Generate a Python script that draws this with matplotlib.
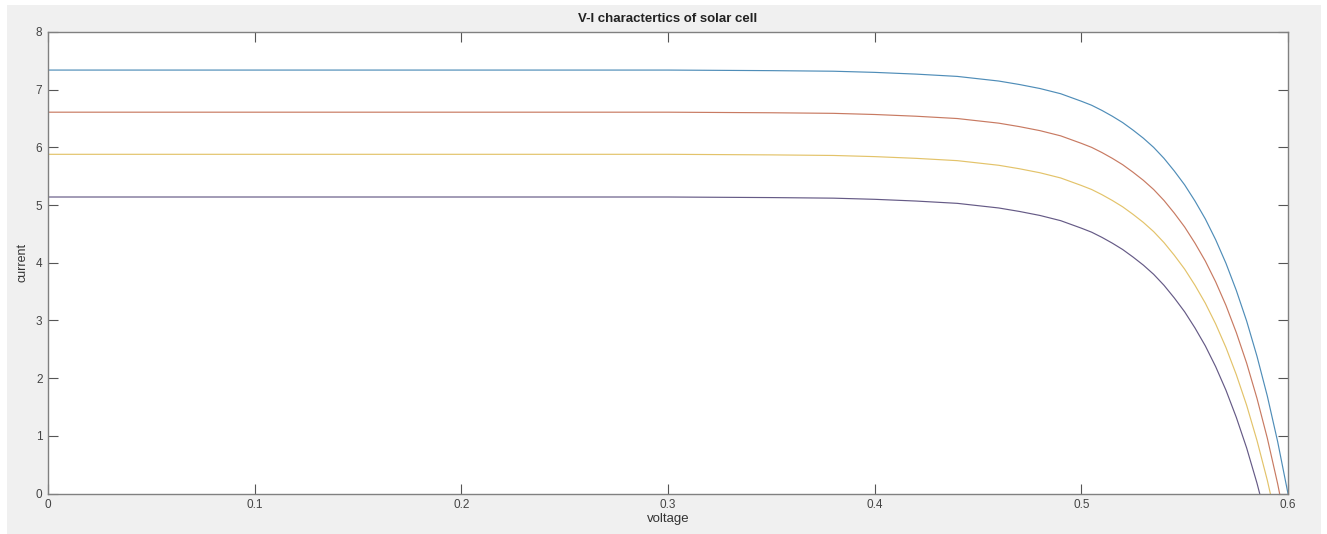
import matplotlib
matplotlib.use("Agg")
import matplotlib.pyplot as plt
from matplotlib.patches import Rectangle

# voltage samples (V), denser near the knee
voltage = [0, 0.1, 0.2, 0.3, 0.35, 0.38, 0.40, 0.42, 0.43, 0.44, 0.45, 0.46,
           0.47, 0.48, 0.49, 0.50, 0.505, 0.51, 0.515, 0.52, 0.525, 0.53,
           0.535, 0.54, 0.545, 0.55, 0.555, 0.56, 0.565, 0.57, 0.575, 0.58,
           0.585, 0.59, 0.595, 0.60]

# current (A) for the four curves, top to bottom
current_1 = [7.34, 7.34, 7.34, 7.34, 7.33, 7.32, 7.30, 7.27, 7.25, 7.23, 7.19, 7.15,
             7.09, 7.02, 6.93, 6.80, 6.73, 6.64, 6.54, 6.43, 6.30, 6.16,
             6.00, 5.81, 5.59, 5.35, 5.07, 4.76, 4.40, 3.99, 3.52, 2.99,
             2.38, 1.69, 0.90, 0.00]
current_2 = [6.61, 6.61, 6.61, 6.61, 6.60, 6.59, 6.57, 6.54, 6.52, 6.50, 6.46, 6.42,
             6.36, 6.29, 6.20, 6.07, 6.00, 5.91, 5.81, 5.70, 5.57, 5.43,
             5.27, 5.08, 4.86, 4.62, 4.34, 4.03, 3.67, 3.26, 2.79, 2.26,
             1.65, 0.96, 0.17, -0.73]
current_3 = [5.88, 5.88, 5.88, 5.88, 5.87, 5.86, 5.84, 5.81, 5.79, 5.77, 5.73, 5.69,
             5.63, 5.56, 5.47, 5.34, 5.27, 5.18, 5.08, 4.97, 4.84, 4.70,
             4.54, 4.35, 4.13, 3.89, 3.61, 3.30, 2.94, 2.53, 2.06, 1.53,
             0.92, 0.23, -0.56, -1.46]
current_4 = [5.14, 5.14, 5.14, 5.14, 5.13, 5.12, 5.10, 5.07, 5.05, 5.03, 4.99, 4.95,
             4.89, 4.82, 4.73, 4.60, 4.53, 4.44, 4.34, 4.23, 4.10, 3.96,
             3.80, 3.61, 3.39, 3.15, 2.87, 2.56, 2.20, 1.79, 1.32, 0.79,
             0.18, -0.51, -1.30, -2.20]

x_ticks = [0, 0.1, 0.2, 0.3, 0.4, 0.5, 0.6]
x_tick_labels = ["0", "0.1", "0.2", "0.3", "0.4", "0.5", "0.6"]
y_ticks = [0, 1, 2, 3, 4, 5, 6, 7, 8]

# matlab default line colours, a bit washed out like the screenshot
colors = ["#4f8db8", "#c87a62", "#e3c36a", "#655a86"]

plt.rcParams['font.family'] = ['Liberation Sans', 'DejaVu Sans']

fig = plt.figure(figsize=(13.27, 5.34), dpi=100, facecolor="white")
# grey matlab figure window
fig.patches.append(Rectangle((7 / 1327, 0), 1314 / 1327, 529 / 534,
                             transform=fig.transFigure, facecolor="#f0f0f0",
                             edgecolor="none", zorder=-10))

ax = fig.add_axes([0.0362, 0.0757, 0.9344, 0.8644])
ax.set_facecolor("white")

for cur, col in zip([current_1, current_2, current_3, current_4], colors):
    ax.plot(voltage, cur, color=col, lw=0.85)

ax.set_xlim(0, 0.6)
ax.set_ylim(0, 8)
ax.set_xticks(x_ticks)
ax.set_xticklabels(x_tick_labels)
ax.set_yticks(y_ticks)

ax.tick_params(direction="in", length=7, width=0.8, color="#555555",
               labelcolor="#444444", labelsize=8.5, top=True, right=True, pad=4)
for s in ax.spines.values():
    s.set_color("#808080")
    s.set_linewidth(1.0)

ax.set_title("V-I charactertics of solar cell", fontsize=9.5, fontweight="bold",
             color="#222222", pad=7)
ax.set_xlabel("voltage", fontsize=9.5, color="#333333", labelpad=1)
ax.set_ylabel("current", fontsize=9, color="#333333", labelpad=5)

fig.savefig("out.png", dpi=100, facecolor=fig.get_facecolor())
